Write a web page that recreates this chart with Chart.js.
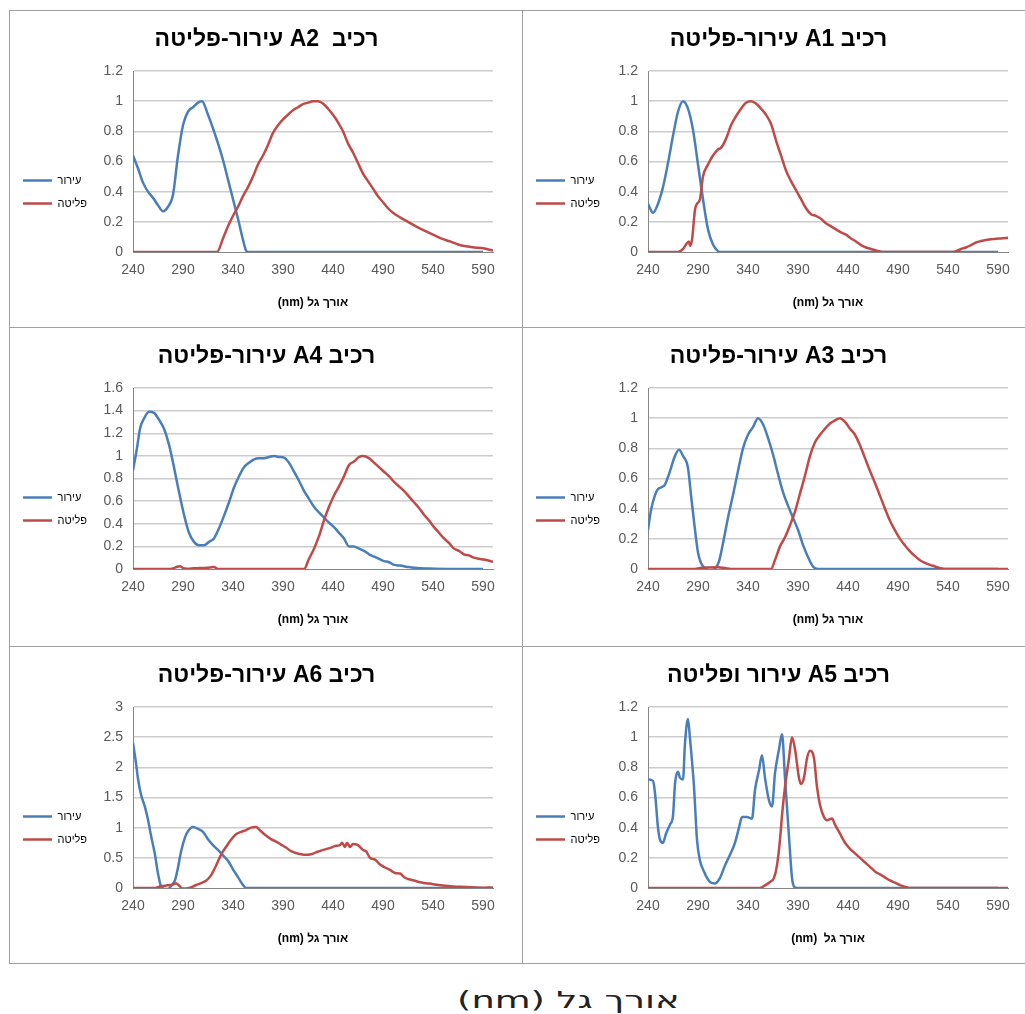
<!DOCTYPE html>
<html lang="he">
<head>
    <meta charset="UTF-8">
    <title>עירור ופליטה</title>
    <script src="https://cdn.jsdelivr.net/npm/chart.js"></script>
    <style>
        html, body {
            margin: 0;
            padding: 0;
            width: 1025px;
            height: 1014px;
            overflow: hidden;
            background: #ffffff;
            font-family: "Liberation Sans", Arial, sans-serif;
        }

        .panel {
            position: absolute;
            box-sizing: border-box;
            border: 1px solid #a0a0a0;
            background: #ffffff;
        }

        .chart-box {
            position: absolute;
            left: 0;
            top: 0;
            right: 0;
            bottom: 0;
        }

        .chart-box canvas {
            direction: rtl;
        }

        #caption {
            position: absolute;
            left: 457px;
            top: 987px;
            font-family: "DejaVu Sans", sans-serif;
            font-size: 23px;
            color: #222;
            white-space: nowrap;
            direction: rtl;
            transform: scaleX(1.6);
            transform-origin: left center;
        }
    </style>
</head>
<body>
    <div class="panel" style="left:9px; top:10px; width:514px; height:318px;"><div class="chart-box"><canvas id="chart-a2"></canvas></div></div>
    <div class="panel" style="left:522px; top:10px; width:512px; height:318px;"><div class="chart-box"><canvas id="chart-a1"></canvas></div></div>
    <div class="panel" style="left:9px; top:327px; width:514px; height:320px;"><div class="chart-box"><canvas id="chart-a4"></canvas></div></div>
    <div class="panel" style="left:522px; top:327px; width:512px; height:320px;"><div class="chart-box"><canvas id="chart-a3"></canvas></div></div>
    <div class="panel" style="left:9px; top:646px; width:514px; height:318px;"><div class="chart-box"><canvas id="chart-a6"></canvas></div></div>
    <div class="panel" style="left:522px; top:646px; width:512px; height:318px;"><div class="chart-box"><canvas id="chart-a5"></canvas></div></div>
    <div id="caption">אורך גל (nm)</div>

    <script>
        // x ticks and legend names shared by all six charts
        const xTicks = [240, 290, 340, 390, 440, 490, 540, 590];
        const seriesNames = ['עירור', 'פליטה'];
        const axisTitle = 'אורך גל (nm)';

        // A2
        const a2ExNm = [240,245,250,255,260,265,270,275,280,285,290,295,300,305,309,315,320,325,330,335,340,345,350,353,355,590];
        const a2Ex = [0.64,0.555,0.46,0.40,0.36,0.31,0.27,0.30,0.38,0.64,0.84,0.93,0.96,0.99,1.0,0.91,0.82,0.72,0.61,0.48,0.35,0.22,0.08,0.01,0,0];
        const a2EmNm = [240,324,330,335,340,345,350,355,360,365,370,375,380,385,390,395,400,405,410,415,420,425,430,435,440,445,450,455,460,465,470,475,480,485,490,495,500,507,515,523,532,540,548,557,565,573,582,590,600];
        const a2Em = [0,0,0.09,0.17,0.24,0.30,0.37,0.43,0.50,0.58,0.64,0.71,0.79,0.84,0.88,0.91,0.94,0.96,0.98,0.99,1.0,1.0,0.985,0.95,0.91,0.86,0.80,0.72,0.66,0.59,0.52,0.47,0.42,0.37,0.33,0.29,0.26,0.23,0.20,0.17,0.14,0.115,0.09,0.07,0.05,0.038,0.03,0.025,0.01];

        // A1
        const a1ExNm = [240,245,250,255,260,265,270,275,280,285,290,295,300,305,310,313,590];
        const a1Ex = [0.32,0.26,0.32,0.43,0.59,0.77,0.93,1.0,0.95,0.81,0.58,0.35,0.15,0.05,0.006,0,0];
        const a1EmNm = [240,270,275,278,281,282,284,287,289,292,295,300,305,310,313,318,323,328,333,338,343,348,353,358,363,368,373,378,383,388,393,398,403,408,413,418,423,428,433,438,443,448,453,458,463,468,475,545,548,553,558,563,568,573,578,583,588,593,600];
        const a1Em = [0,0,0.02,0.05,0.07,0.04,0.08,0.28,0.32,0.35,0.50,0.58,0.64,0.68,0.69,0.75,0.84,0.90,0.95,0.99,1.0,0.985,0.95,0.91,0.85,0.74,0.64,0.54,0.47,0.41,0.35,0.29,0.25,0.24,0.22,0.19,0.17,0.15,0.13,0.115,0.09,0.07,0.046,0.03,0.02,0.01,0,0,0.006,0.02,0.03,0.046,0.063,0.073,0.08,0.084,0.088,0.09,0.094];

        // A4
        const a4ExNm = [240,244,247,251,256,261,266,271,276,281,286,291,296,301,306,311,316,321,325,331,336,341,346,351,356,361,366,371,376,381,386,391,396,401,406,411,416,421,426,431,436,441,446,451,456,461,466,471,476,481,486,491,496,501,507,516,524,541,590];
        const a4Ex = [0.87,1.07,1.24,1.33,1.39,1.38,1.32,1.24,1.10,0.90,0.68,0.48,0.32,0.24,0.21,0.21,0.24,0.27,0.34,0.47,0.59,0.72,0.82,0.90,0.94,0.97,0.98,0.98,0.99,1.0,0.99,0.985,0.94,0.86,0.78,0.69,0.62,0.55,0.50,0.455,0.41,0.37,0.32,0.27,0.20,0.20,0.18,0.16,0.13,0.11,0.09,0.07,0.06,0.036,0.03,0.017,0.008,0.003,0];
        const a4EmNm = [240,274,281,284,287,290,294,301,307,314,321,325,411,416,421,426,431,436,441,446,451,456,461,466,470,476,481,486,491,496,501,506,511,516,521,526,531,536,541,546,551,556,561,566,571,576,581,586,591,600];
        const a4Em = [0,0,0.008,0.02,0.025,0.008,0.003,0.006,0.008,0.011,0.017,0,0,0.09,0.18,0.29,0.43,0.55,0.65,0.73,0.82,0.92,0.95,0.99,1.0,0.98,0.94,0.90,0.86,0.82,0.77,0.73,0.69,0.64,0.59,0.54,0.48,0.43,0.37,0.32,0.27,0.23,0.18,0.16,0.13,0.12,0.10,0.09,0.084,0.064];

        // A3
        const a3ExNm = [240,243,247,250,253,257,260,263,267,271,275,280,283,287,290,293,297,302,307,311,315,320,325,330,335,340,345,350,355,360,365,370,375,380,385,390,395,400,405,410,590];
        const a3Ex = [0.26,0.39,0.49,0.53,0.54,0.56,0.61,0.67,0.75,0.79,0.75,0.67,0.49,0.26,0.11,0.04,0.006,-0.008,0.002,0.05,0.17,0.34,0.49,0.65,0.80,0.89,0.94,1.0,0.96,0.87,0.76,0.63,0.51,0.42,0.34,0.26,0.16,0.08,0.017,0,0];
        const a3EmNm = [240,287,292,300,310,317,323,363,367,372,377,382,387,392,397,402,407,412,417,422,427,432,437,442,447,452,457,462,467,472,477,482,487,492,497,502,507,512,517,522,527,532,537,600];
        const a3Em = [0,0,0.006,0.01,0.012,0.006,0,0,0.06,0.15,0.21,0.29,0.38,0.50,0.62,0.75,0.84,0.89,0.93,0.965,0.985,1.0,0.975,0.93,0.89,0.82,0.735,0.65,0.57,0.485,0.40,0.32,0.256,0.20,0.156,0.117,0.085,0.058,0.04,0.027,0.017,0.006,0,0];

        // A6
        const a6ExNm = [240,243,245,248,252,255,258,262,265,268,272,275,278,282,285,288,292,295,300,305,310,315,320,325,330,335,340,345,350,353,590];
        const a6Ex = [2.41,2.07,1.81,1.55,1.34,1.13,0.87,0.55,0.24,0.03,-0.016,-0.016,0.03,0.13,0.34,0.60,0.84,0.94,1.01,0.98,0.93,0.81,0.71,0.63,0.54,0.45,0.31,0.18,0.05,0,0];
        const a6EmNm = [240,262,267,272,277,280,283,287,289,293,298,303,308,313,318,323,328,333,338,343,348,353,358,363,368,373,378,383,388,393,398,403,408,413,418,423,428,433,438,443,447,449,452,454,457,460,465,470,473,477,482,487,492,497,502,507,512,517,522,527,533,540,550,560,573,587,600];
        const a6Em = [0,0,0.026,0.037,0.05,0.06,0.08,0.026,-0.01,-0.01,0.01,0.05,0.08,0.12,0.21,0.37,0.55,0.68,0.80,0.89,0.93,0.96,1.0,1.01,0.94,0.87,0.81,0.77,0.72,0.67,0.61,0.58,0.56,0.55,0.56,0.59,0.62,0.645,0.67,0.70,0.71,0.75,0.68,0.75,0.68,0.73,0.71,0.63,0.61,0.50,0.47,0.39,0.34,0.30,0.25,0.24,0.17,0.14,0.12,0.094,0.08,0.063,0.042,0.026,0.016,0.005,0.01];

        // A5
        const a5ExNm = [240,245,247,250,252,255,258,262,265,267,270,272,275,277,280,282,286,289,292,296,299,302,307,312,317,322,327,331,334,339,344,347,351,354,357,361,364,367,371,374,377,381,384,386,389,590];
        const a5Ex = [0.72,0.71,0.63,0.40,0.32,0.30,0.36,0.42,0.48,0.69,0.77,0.73,0.72,0.96,1.12,0.99,0.67,0.32,0.18,0.11,0.067,0.04,0.03,0.067,0.15,0.22,0.30,0.40,0.47,0.47,0.46,0.65,0.78,0.88,0.73,0.58,0.54,0.76,0.92,1.02,0.73,0.34,0.067,0.01,0,0];
        const a5EmNm = [240,352,357,362,366,369,372,374,377,381,384,387,391,393,396,399,402,406,409,412,416,419,424,427,432,437,442,447,452,457,462,467,472,477,482,487,492,497,501,600];
        const a5Em = [0,0,0.017,0.04,0.067,0.15,0.32,0.48,0.67,0.86,1.0,0.92,0.73,0.69,0.73,0.86,0.91,0.86,0.67,0.55,0.47,0.45,0.46,0.42,0.36,0.30,0.26,0.23,0.20,0.17,0.14,0.11,0.09,0.07,0.05,0.035,0.019,0.008,0,0];

        const blue = '#4a7ebb';
        const red = '#be4b48';

        // plot area edges in canvas pixels, per column
        const plotLeft = [123, 125];
        const padRight = [29, 25];
        const padLeft = 1;

        Chart.defaults.font.family = '"Liberation Sans", Arial, sans-serif';

        const panels = [
            { id: 'chart-a2', title: 'רכיב  A2 עירור-פליטה', col: 0, h: 316, yMax: 1.2, yStep: 0.2, exNm: a2ExNm, ex: a2Ex, emNm: a2EmNm, em: a2Em },
            { id: 'chart-a1', title: 'רכיב A1 עירור-פליטה', col: 1, h: 316, yMax: 1.2, yStep: 0.2, exNm: a1ExNm, ex: a1Ex, emNm: a1EmNm, em: a1Em },
            { id: 'chart-a4', title: 'רכיב A4 עירור-פליטה', col: 0, h: 318, yMax: 1.6, yStep: 0.2, exNm: a4ExNm, ex: a4Ex, emNm: a4EmNm, em: a4Em },
            { id: 'chart-a3', title: 'רכיב A3 עירור-פליטה', col: 1, h: 318, yMax: 1.2, yStep: 0.2, exNm: a3ExNm, ex: a3Ex, emNm: a3EmNm, em: a3Em },
            { id: 'chart-a6', title: 'רכיב A6 עירור-פליטה', col: 0, h: 316, yMax: 3, yStep: 0.5, exNm: a6ExNm, ex: a6Ex, emNm: a6EmNm, em: a6Em },
            { id: 'chart-a5', title: 'רכיב A5 עירור ופליטה', col: 1, h: 316, yMax: 1.2, yStep: 0.2, exNm: a5ExNm, ex: a5Ex, emNm: a5EmNm, em: a5Em, axisTitle: 'אורך גל  (nm)' }
        ];

        function toPoints(xs, ys) {
            return xs.map((x, i) => ({ x: x, y: ys[i] }));
        }

        function createChart(p) {
            const left = plotLeft[p.col];
            new Chart(document.getElementById(p.id), {
                type: 'line',
                data: {
                    datasets: [
                        { label: seriesNames[0], data: toPoints(p.exNm, p.ex), borderColor: blue, order: 1 },
                        { label: seriesNames[1], data: toPoints(p.emNm, p.em), borderColor: red, order: 0 }
                    ]
                },
                options: {
                    responsive: true,
                    maintainAspectRatio: false,
                    animation: false,
                    events: [],
                    elements: {
                        line: { borderWidth: 2.5, cubicInterpolationMode: 'monotone', fill: false },
                        // radius 0: only the width is used, by the legend line
                        point: { radius: 0, borderWidth: 2.5 }
                    },
                    layout: { padding: { left: padLeft, right: 0, top: 0, bottom: p.h - 298.6 } },
                    plugins: {
                        title: {
                            display: true,
                            text: p.title,
                            color: '#000',
                            font: { size: 23, weight: 'bold' },
                            padding: { top: 14.7, bottom: 17.7 }
                        },
                        legend: {
                            position: 'left',
                            title: { display: true, text: '', font: { size: 12 }, padding: { top: 49, bottom: 0 } },
                            labels: {
                                usePointStyle: true,
                                pointStyle: 'line',
                                pointStyleWidth: 29,
                                padding: 12,
                                color: '#000',
                                font: { size: 11 },
                                sort: (a, b) => a.datasetIndex - b.datasetIndex
                            }
                        },
                        tooltip: { enabled: false }
                    },
                    scales: {
                        x: {
                            type: 'linear',
                            min: 240,
                            max: 600,
                            afterBuildTicks: axis => { axis.ticks = xTicks.map(v => ({ value: v })); },
                            grid: { display: false, drawTicks: false },
                            border: { color: '#868686', width: 1 },
                            ticks: { padding: 10, autoSkip: false, maxRotation: 0, color: '#595959', font: { size: 14 }, callback: v => String(v) },
                            title: { display: true, text: p.axisTitle || axisTitle, color: '#000', font: { size: 12, weight: 'bold' }, padding: { top: 6.4, bottom: 0 } }
                        },
                        y: {
                            min: 0,
                            max: p.yMax,
                            afterFit: axis => { axis.width = left - axis.chart.legend.width - padLeft; },
                            grid: { drawTicks: false, lineWidth: 1.5, color: c => c.tick && c.tick.value === 0 ? 'rgba(0,0,0,0)' : '#cccccc' },
                            border: { color: '#868686', width: 1 },
                            ticks: { stepSize: p.yStep, padding: 10, color: '#595959', font: { size: 14 }, callback: v => String(Math.round(v * 10) / 10) }
                        },
                        // empty right-hand spacer so the title stays centred on the panel
                        yPad: {
                            type: 'linear',
                            position: 'right',
                            grid: { display: false, drawTicks: false },
                            border: { display: false },
                            ticks: { display: false },
                            afterFit: axis => { axis.width = padRight[p.col]; }
                        }
                    }
                }
            });
        }

        panels.forEach(createChart);
    </script>
</body>
</html>
